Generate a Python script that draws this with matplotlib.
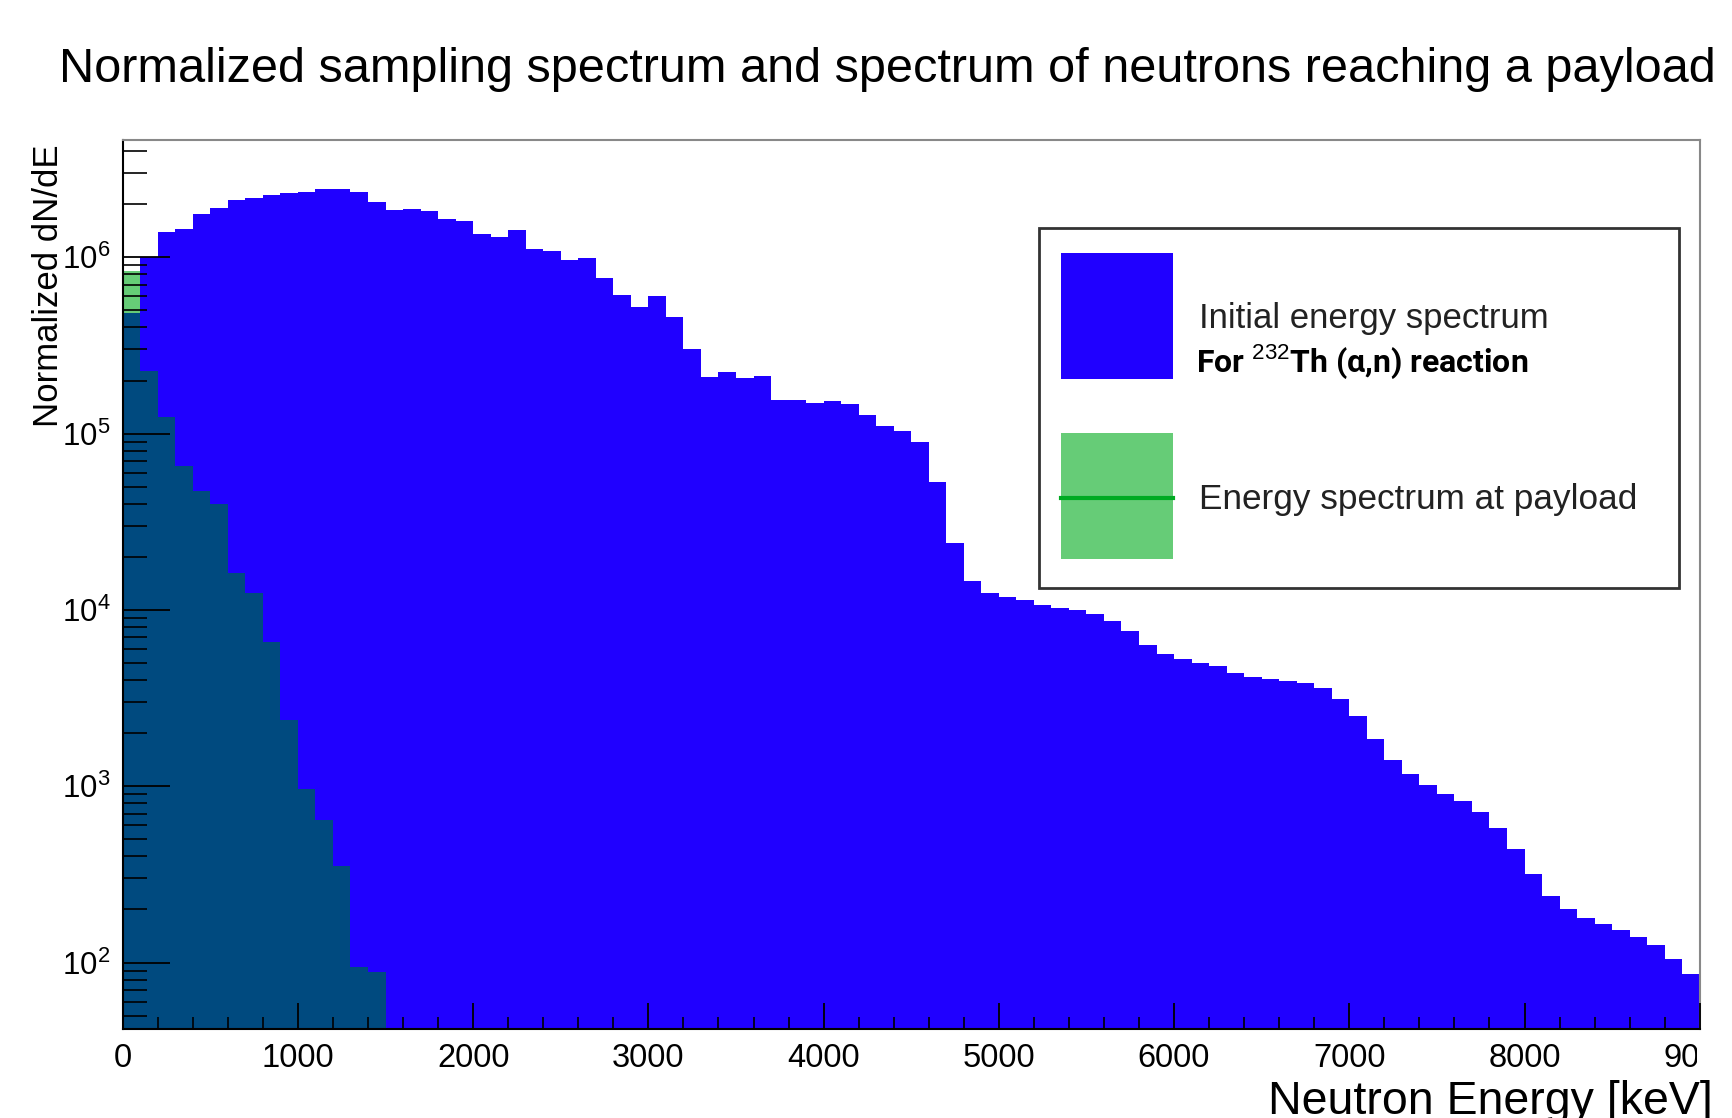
import numpy as np
import matplotlib
matplotlib.use("Agg")
import matplotlib.pyplot as plt
from matplotlib.ticker import MultipleLocator, LogLocator, NullFormatter
from matplotlib.patches import Rectangle
from matplotlib.lines import Line2D
from matplotlib.transforms import Bbox, TransformedBbox

plt.rcParams['font.family'] = ['Liberation Sans', 'DejaVu Sans']
plt.rcParams['mathtext.fontset'] = 'custom'
plt.rcParams['mathtext.rm'] = 'Liberation Sans'

# histogram binning (keV)
BIN_WIDTH = 100
E_MAX = 9000

# initial sampling spectrum, 90 bins of 100 keV
blue_counts = [4.83e5, 1.00e6, 1.40e6, 1.45e6, 1.75e6, 1.90e6, 2.11e6, 2.16e6, 2.25e6, 2.33e6,
               2.36e6, 2.44e6, 2.44e6, 2.36e6, 2.07e6, 1.86e6, 1.88e6, 1.82e6, 1.64e6, 1.60e6,
               1.36e6, 1.30e6, 1.43e6, 1.12e6, 1.08e6, 9.68e5, 9.89e5, 7.62e5, 6.14e5, 5.25e5,
               6.00e5, 4.59e5, 3.00e5, 2.10e5, 2.23e5, 2.06e5, 2.12e5, 1.55e5, 1.55e5, 1.50e5,
               1.53e5, 1.47e5, 1.27e5, 1.10e5, 1.04e5, 8.97e4, 5.32e4, 2.40e4, 1.45e4, 1.24e4,
               1.18e4, 1.14e4, 1.07e4, 1.03e4, 9.93e3, 9.51e3, 8.71e3, 7.55e3, 6.35e3, 5.65e3,
               5.28e3, 5.02e3, 4.81e3, 4.41e3, 4.17e3, 4.04e3, 3.94e3, 3.87e3, 3.61e3, 3.11e3,
               2.51e3, 1.85e3, 1.41e3, 1.17e3, 1.02e3, 904, 824, 710, 583, 440,
               318, 240, 200, 179, 166, 154, 139, 125, 105, 86]

# spectrum at payload (empty above 1500 keV)
green_counts = [8.39e5, 2.26e5, 1.24e5, 6.52e4, 4.73e4, 3.98e4, 1.61e4, 1.24e4, 6.58e3, 2.37e3,
                966, 640, 352, 95, 89]

y_min, y_max = 42, 4.6e6

BLUE = '#2000ff'
LIGHTGREEN = '#66cc77'
TEAL = '#004a7f'
DARKGREEN = '#00aa22'

blue = np.array(blue_counts)
green = np.array(green_counts)
edges = np.arange(0, E_MAX + BIN_WIDTH, BIN_WIDTH)
g_edges = edges[:len(green) + 1]

fig = plt.figure(figsize=(17.33, 11.18), dpi=100)
ax = fig.add_axes([0.0708, 0.0796, 0.91, 0.7948])

ax.stairs(blue, edges, fill=True, color=BLUE, baseline=1)
ax.stairs(green, g_edges, fill=True, color=LIGHTGREEN, baseline=1)
# overlap of the two fills
ax.stairs(np.minimum(blue[:len(green)], green), g_edges, fill=True, color=TEAL, baseline=1)

ax.set_yscale('log')
ax.set_xlim(0, E_MAX)
ax.set_ylim(y_min, y_max)
ax.set_axisbelow(False)

ax.xaxis.set_major_locator(MultipleLocator(1000))
ax.xaxis.set_minor_locator(MultipleLocator(200))
ax.yaxis.set_major_locator(LogLocator(base=10))
ax.yaxis.set_minor_locator(LogLocator(base=10, subs=np.arange(2, 10)))
ax.yaxis.set_minor_formatter(NullFormatter())

ax.tick_params(which='both', direction='in', top=False, right=False, color='black')
ax.tick_params(axis='x', which='major', length=19, width=1.3, pad=10, labelsize=23.5)
ax.tick_params(axis='x', which='minor', length=9, width=1.2)
ax.tick_params(axis='y', which='major', length=34, width=1.3, pad=9, labelsize=22.5)
ax.tick_params(axis='y', which='minor', length=17, width=1.2)

for s in ['left', 'bottom']:
    ax.spines[s].set_color('black')
    ax.spines[s].set_linewidth(1.5)
for s in ['top', 'right']:
    ax.spines[s].set_color('#888888')
    ax.spines[s].set_linewidth(1.5)

# last x label is cut at the right in the original
fig.canvas.draw()
clip = TransformedBbox(Bbox([[0, 0], [1697 / 1733, 1]]), fig.transFigure)
for lab in ax.get_xticklabels():
    lab.set_clip_box(clip)
    lab.set_clip_on(True)

fig.text(0.512, 0.927, 'Normalized sampling spectrum and spectrum of neutrons reaching a payload',
         ha='center', va='baseline', fontsize=35, color='black')
fig.text(0.028, 0.871, 'Normalized dN/dE', rotation=90, ha='center', va='top', fontsize=25)
fig.text(0.7317, 0.0036, 'Neutron Energy [keV]', ha='left', va='baseline', fontsize=33.5)

# legend box
ax.add_patch(Rectangle((0.581, 0.4963), 0.406, 0.4051, transform=ax.transAxes,
                       facecolor='white', edgecolor='#333333', lw=2, zorder=5))
ax.add_patch(Rectangle((0.5949, 0.7315), 0.071, 0.1418, transform=ax.transAxes,
                       facecolor=BLUE, edgecolor='none', zorder=6))
ax.add_patch(Rectangle((0.5949, 0.5289), 0.071, 0.1418, transform=ax.transAxes,
                       facecolor=LIGHTGREEN, edgecolor='none', zorder=6))
ax.add_line(Line2D([0.5949, 0.6659], [0.5976, 0.5976], transform=ax.transAxes,
                   color=DARKGREEN, lw=3, zorder=7))
ax.text(0.6825, 0.7995, 'Initial energy spectrum', transform=ax.transAxes,
        ha='left', va='center', fontsize=25, color='#222222', zorder=7)
ax.text(0.6805, 0.7506, r'For $^{232}$Th (α,n) reaction', transform=ax.transAxes,
        ha='left', va='center', fontsize=23, color='black', fontweight='bold',
        family=['Roboto', 'DejaVu Sans'], zorder=7)
ax.text(0.6825, 0.5960, 'Energy spectrum at payload', transform=ax.transAxes,
        ha='left', va='center', fontsize=25.3, color='#222222', zorder=7)

fig.savefig('out.png', dpi=100, facecolor='white')
